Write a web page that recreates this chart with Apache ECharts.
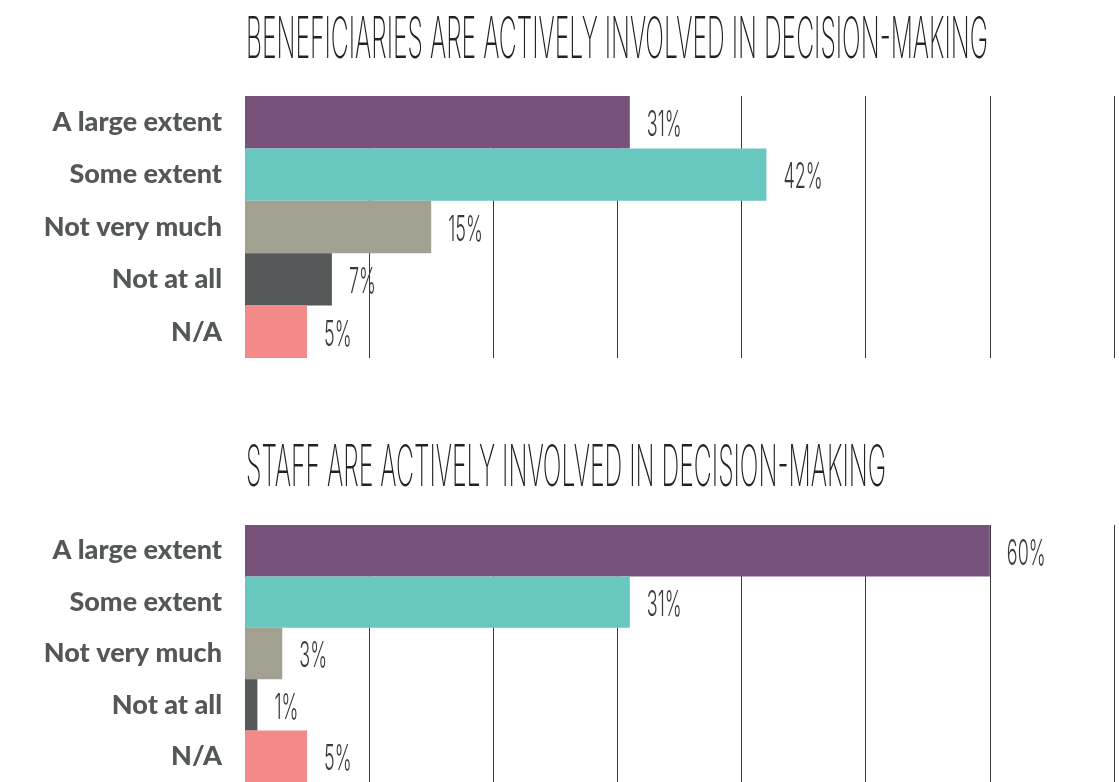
<!DOCTYPE html>
<html>
<head>
<meta charset="utf-8">
<script src="https://cdn.jsdelivr.net/npm/echarts@6/dist/echarts.min.js"></script>
<style>
html,body{margin:0;padding:0;background:#fff;}
#main{width:1119px;height:782px;}
</style>
</head>
<body>
<div id="main"></div>
<script>
// ---- data ----
var categories = ['A large extent', 'Some extent', 'Not very much', 'Not at all', 'N/A'];
var beneficiaryValues = [31, 42, 15, 7, 5];
var staffValues = [60, 31, 3, 1, 5];
var titleTop = 'BENEFICIARIES ARE ACTIVELY INVOLVED IN DECISION-MAKING';
var titleBottom = 'STAFF ARE ACTIVELY INVOLVED IN DECISION-MAKING';
var barColors = ['#77527A', '#68C7BF', '#A2A191', '#555859', '#F38A89'];

// ---- layout helpers ----
var titleFont = '200 57px Inter';
var valueFont = '300 36px Inter';
function fitScale(text, font, target) {
  var c = document.createElement('canvas').getContext('2d');
  c.font = font;
  return target / c.measureText(text).width;
}

function makeData(vals) {
  return vals.map(function (v, i) {
    return { value: v, itemStyle: { color: barColors[i] } };
  });
}
function labelData(vals) {
  return vals.map(function (v, i) { return [v, i]; });
}

var chart = echarts.init(document.getElementById('main'));

function xAxisCfg(gi) {
  return {
    gridIndex: gi, type: 'value', min: 0, max: 70, interval: 10,
    axisLabel: { show: false }, axisTick: { show: false }, axisLine: { show: false },
    splitLine: { show: true, lineStyle: { color: '#3a3a3a', width: 1 } }
  };
}
function yAxisCfg(gi) {
  return {
    gridIndex: gi, type: 'category', data: categories, inverse: true,
    axisTick: { show: false }, axisLine: { show: false },
    axisLabel: {
      margin: 23, fontFamily: 'Lato', fontWeight: 900, fontSize: 27, color: '#545758'
    }
  };
}
function seriesCfg(gi, vals) {
  return {
    type: 'bar', xAxisIndex: gi, yAxisIndex: gi, data: makeData(vals),
    barWidth: '100%', barCategoryGap: 0
  };
}
function labelSeries(gi, vals) {
  return {
    type: 'custom', xAxisIndex: gi, yAxisIndex: gi, data: labelData(vals),
    encode: { x: 0, y: 1 }, z: 5,
    renderItem: function (params, api) {
      var p = api.coord([api.value(0), api.value(1)]);
      return {
        type: 'text', x: p[0] + 17, y: p[1] + 3, scaleX: 0.5,
        style: { text: api.value(0) + '%', font: valueFont, fill: '#3a3a3a', verticalAlign: 'middle' }
      };
    }
  };
}

function buildOption() {
  return {
    animation: false,
    backgroundColor: '#fff',
    grid: [
      { left: 245, top: 96, width: 869, height: 262 },
      { left: 245, top: 525, width: 869, height: 262 }
    ],
    xAxis: [xAxisCfg(0), xAxisCfg(1)],
    yAxis: [yAxisCfg(0), yAxisCfg(1)],
    series: [
      seriesCfg(0, beneficiaryValues), seriesCfg(1, staffValues),
      labelSeries(0, beneficiaryValues), labelSeries(1, staffValues)
    ],
    graphic: [
      {
        type: 'text', x: 246, y: 12, scaleX: fitScale(titleTop, titleFont, 742),
        style: { text: titleTop, font: titleFont, fill: '#222', verticalAlign: 'top' }
      },
      {
        type: 'text', x: 246, y: 440, scaleX: fitScale(titleBottom, titleFont, 640),
        style: { text: titleBottom, font: titleFont, fill: '#222', verticalAlign: 'top' }
      }
    ]
  };
}
chart.setOption(buildOption());
</script>
</body>
</html>
